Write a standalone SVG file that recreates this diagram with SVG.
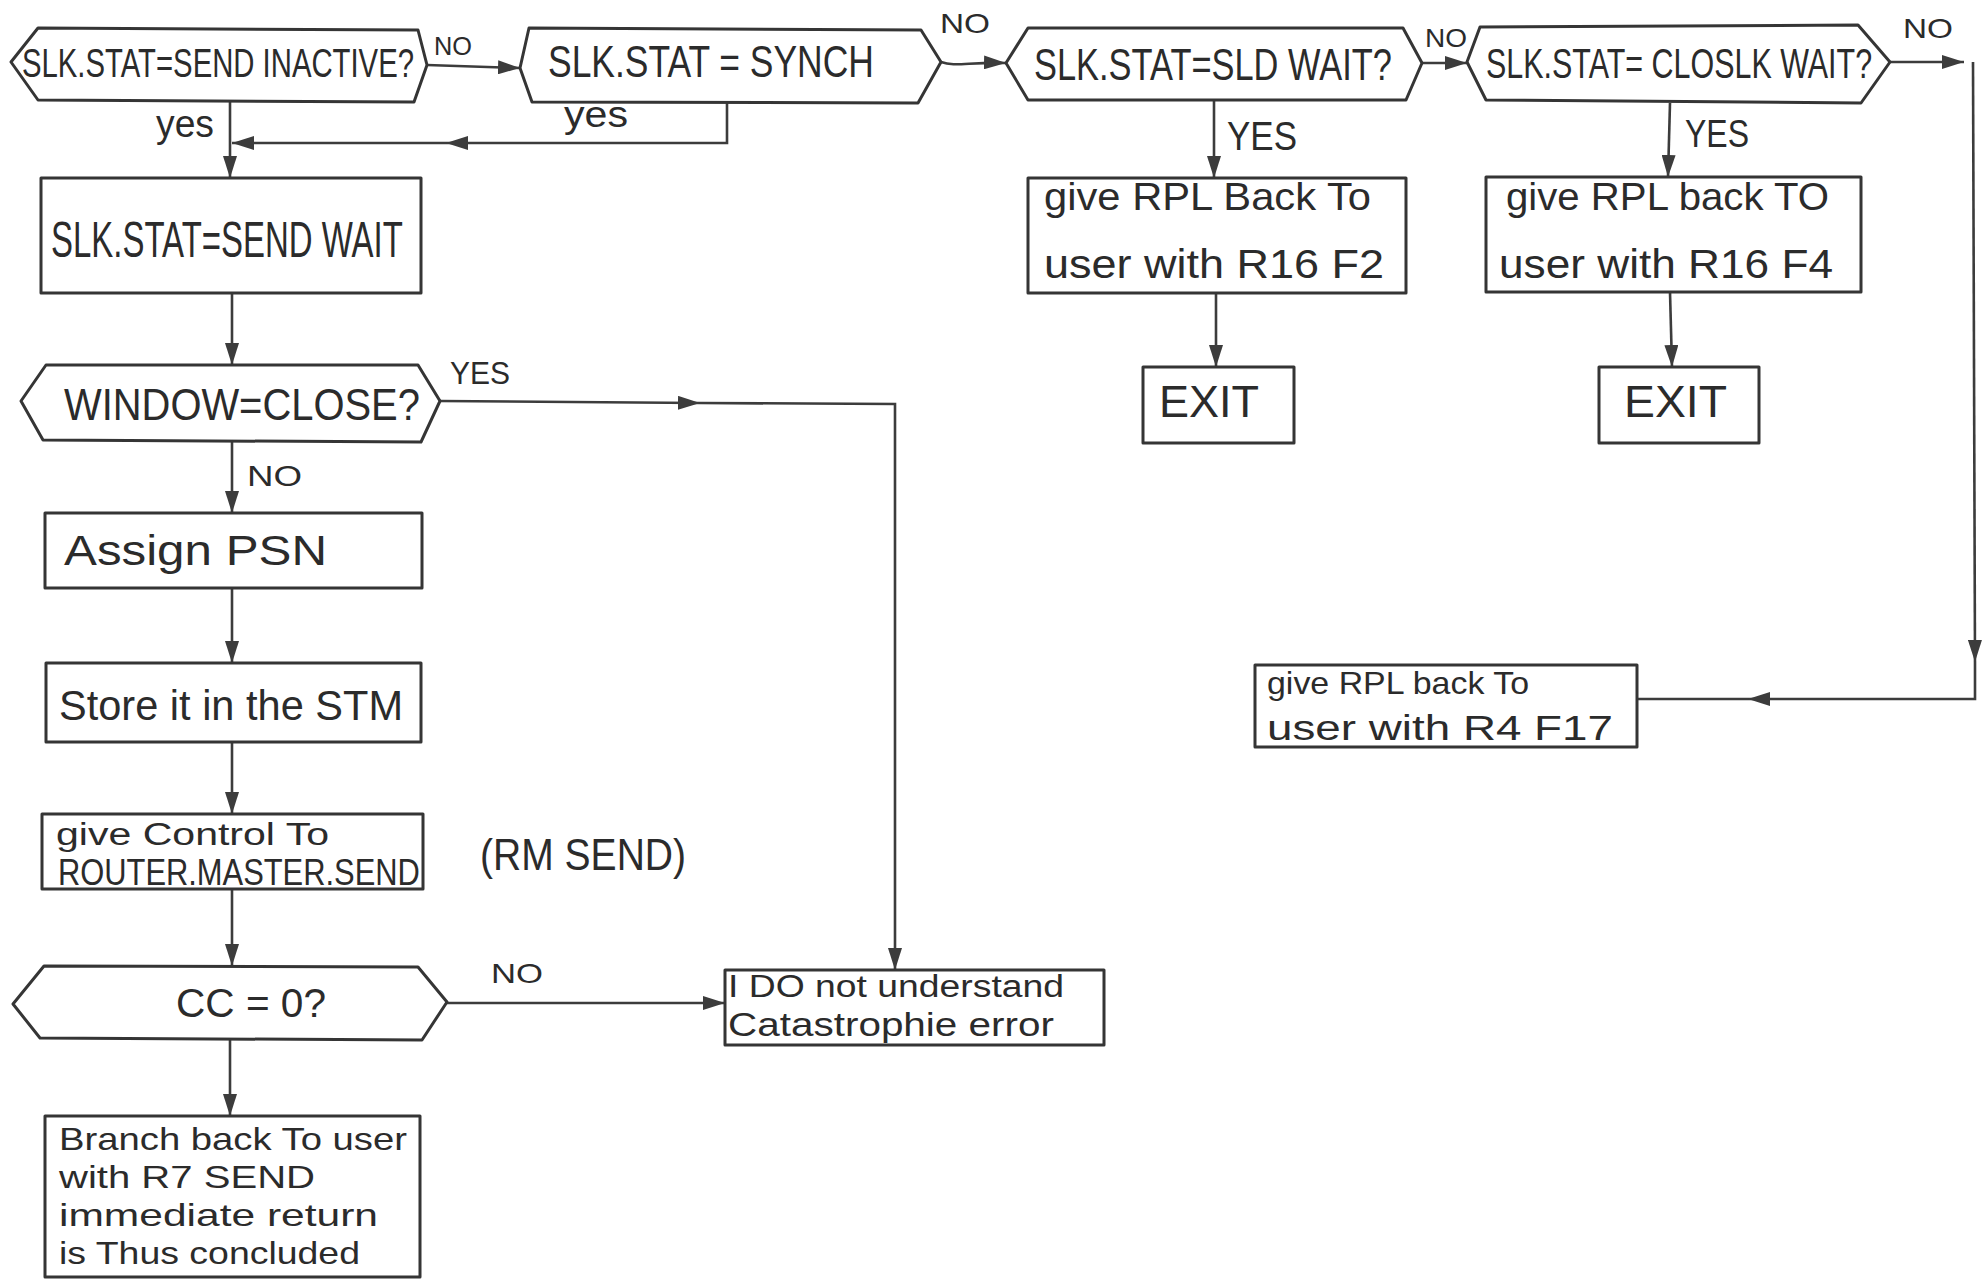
<svg xmlns="http://www.w3.org/2000/svg" width="1986" height="1280" viewBox="0 0 1986 1280">
<defs>
<marker id="ah" markerUnits="userSpaceOnUse" markerWidth="22" markerHeight="14" refX="22" refY="7" orient="auto">
<path d="M0,0 L22,7 L0,14 z" fill="#3c3c3c"/>
</marker>
<style>
.s{fill:#fff;stroke:#353535;stroke-width:3;stroke-linejoin:round}
.c{fill:none;stroke:#3c3c3c;stroke-width:2.6}
.a{marker-end:url(#ah)}
text{font-family:"Liberation Sans","DejaVu Sans",sans-serif;fill:#2b2b2b}
</style>
</defs>
<rect width="1986" height="1280" fill="#fff"/>
<g id="connectors">
<path class="c a" d="M427,65 L520,68"/>
<path class="c a" d="M941,62 C955,67 968,62 1006,63"/>
<path class="c a" d="M1422,63 L1467,63"/>
<path class="c a" d="M1890,62 L1964,62"/>
<path class="c a" d="M1973,62 L1975,662"/>
<path class="c a" d="M1975,662 L1975,699 L1748,699"/>
<path class="c" d="M1748,699 L1637,699"/>
<path class="c a" d="M230,102 L230,178"/>
<path class="c a" d="M727,103 L727,143 L446,143"/>
<path class="c a" d="M446,143 L232,143"/>
<path class="c a" d="M232,293 L232,365"/>
<path class="c a" d="M440,401 L700,403"/>
<path class="c a" d="M700,403 L895,404 L895,970"/>
<path class="c a" d="M232,442 L232,513"/>
<path class="c a" d="M232,588 L232,663"/>
<path class="c a" d="M232,742 L232,814"/>
<path class="c a" d="M232,889 L232,966"/>
<path class="c a" d="M447,1003 L725,1003"/>
<path class="c a" d="M230,1040 L230,1116"/>
<path class="c a" d="M1214,100 L1214,178"/>
<path class="c a" d="M1216,293 L1216,367"/>
<path class="c a" d="M1670,103 L1668,177"/>
<path class="c a" d="M1670,292 L1672,367"/>
</g>
<g id="n-send-inactive">
<polygon class="s" points="11,62 38,28 418,30 427,65 414,102 38,100"/>
<text transform="translate(22,77) scale(0.705,1)" font-size="40" textLength="556" lengthAdjust="spacingAndGlyphs">SLK.STAT=SEND INACTIVE?</text>
</g>
<g id="n-synch">
<polygon class="s" points="520,68 529,28 921,30 941,62 918,103 532,102"/>
<text transform="translate(548,77) scale(0.791,1)" font-size="44" textLength="412" lengthAdjust="spacingAndGlyphs">SLK.STAT = SYNCH</text>
</g>
<g id="n-sld-wait">
<polygon class="s" points="1006,63 1028,28 1403,28 1422,63 1406,100 1028,100"/>
<text transform="translate(1034,80) scale(0.768,1)" font-size="44" textLength="466" lengthAdjust="spacingAndGlyphs">SLK.STAT=SLD WAIT?</text>
</g>
<g id="n-closlk-wait">
<polygon class="s" points="1467,62 1480,27 1858,25 1890,62 1861,103 1486,100"/>
<text transform="translate(1486,78) scale(0.715,1)" font-size="42" textLength="540" lengthAdjust="spacingAndGlyphs">SLK.STAT= CLOSLK WAIT?</text>
</g>
<g id="n-send-wait">
<rect class="s" x="41" y="178" width="380" height="115"/>
<text transform="translate(51,257) scale(0.648,1)" font-size="50" textLength="543" lengthAdjust="spacingAndGlyphs">SLK.STAT=SEND WAIT</text>
</g>
<g id="n-rpl-f2">
<rect class="s" x="1028" y="178" width="378" height="115"/>
<text x="1044" y="210" font-size="39" textLength="327" lengthAdjust="spacingAndGlyphs">give RPL Back To</text>
<text x="1044" y="278" font-size="40" textLength="340" lengthAdjust="spacingAndGlyphs">user with R16 F2</text>
</g>
<g id="n-rpl-f4">
<rect class="s" x="1486" y="177" width="375" height="115"/>
<text x="1506" y="210" font-size="39" textLength="323" lengthAdjust="spacingAndGlyphs">give RPL back TO</text>
<text x="1499" y="278" font-size="40" textLength="334" lengthAdjust="spacingAndGlyphs">user with R16 F4</text>
</g>
<g id="n-exit-1">
<rect class="s" x="1143" y="367" width="151" height="76"/>
<text x="1159" y="417" font-size="45" textLength="100" lengthAdjust="spacingAndGlyphs">EXIT</text>
</g>
<g id="n-exit-2">
<rect class="s" x="1599" y="367" width="160" height="76"/>
<text x="1624" y="417" font-size="45" textLength="103" lengthAdjust="spacingAndGlyphs">EXIT</text>
</g>
<g id="n-rpl-f17">
<rect class="s" x="1255" y="665" width="382" height="82"/>
<text x="1267" y="694" font-size="32" textLength="262" lengthAdjust="spacingAndGlyphs">give RPL back To</text>
<text x="1267" y="740" font-size="35" textLength="346" lengthAdjust="spacingAndGlyphs">user with R4 F17</text>
</g>
<g id="n-window">
<polygon class="s" points="21,401 46,365 418,365 440,401 421,442 43,440"/>
<text transform="translate(64,420) scale(0.908,1)" font-size="44" textLength="392" lengthAdjust="spacingAndGlyphs">WINDOW=CLOSE?</text>
</g>
<g id="n-assign">
<rect class="s" x="45" y="513" width="377" height="75"/>
<text x="64" y="565" font-size="42" textLength="263" lengthAdjust="spacingAndGlyphs">Assign PSN</text>
</g>
<g id="n-store">
<rect class="s" x="46" y="663" width="375" height="79"/>
<text x="59" y="720" font-size="43" textLength="344" lengthAdjust="spacingAndGlyphs">Store it in the STM</text>
</g>
<g id="n-give-control">
<rect class="s" x="42" y="814" width="381" height="75"/>
<text x="56" y="845" font-size="31" textLength="273" lengthAdjust="spacingAndGlyphs">give Control To</text>
<text transform="translate(58,885) scale(0.813,1)" font-size="37" textLength="445" lengthAdjust="spacingAndGlyphs">ROUTER.MASTER.SEND</text>
</g>
<g id="n-rm-send">
<text transform="translate(480,870) scale(0.888,1)" font-size="44" textLength="232" lengthAdjust="spacingAndGlyphs">(RM SEND)</text>
</g>
<g id="n-cc">
<polygon class="s" points="13,1004 44,966 418,967 447,1002 422,1040 40,1038"/>
<text x="176" y="1017" font-size="41" textLength="150" lengthAdjust="spacingAndGlyphs">CC = 0?</text>
</g>
<g id="n-error">
<rect class="s" x="725" y="970" width="379" height="75"/>
<text x="728" y="997" font-size="31" textLength="336" lengthAdjust="spacingAndGlyphs">I DO not understand</text>
<text x="728" y="1036" font-size="33" textLength="326" lengthAdjust="spacingAndGlyphs">Catastrophie error</text>
</g>
<g id="n-branch">
<rect class="s" x="45" y="1116" width="375" height="161"/>
<text x="59" y="1150" font-size="32" textLength="348" lengthAdjust="spacingAndGlyphs">Branch back To user</text>
<text x="59" y="1188" font-size="32" textLength="256" lengthAdjust="spacingAndGlyphs">with R7 SEND</text>
<text x="59" y="1226" font-size="32" textLength="319" lengthAdjust="spacingAndGlyphs">immediate return</text>
<text x="59" y="1264" font-size="32" textLength="301" lengthAdjust="spacingAndGlyphs">is Thus concluded</text>
</g>
<g id="labels">
<text x="434" y="55" font-size="26" textLength="38" lengthAdjust="spacingAndGlyphs">NO</text>
<text x="156" y="137" font-size="38" textLength="58" lengthAdjust="spacingAndGlyphs">yes</text>
<text x="564" y="127" font-size="36" textLength="64" lengthAdjust="spacingAndGlyphs">yes</text>
<text x="940" y="33" font-size="28" textLength="50" lengthAdjust="spacingAndGlyphs">NO</text>
<text x="1425" y="47" font-size="26" textLength="42" lengthAdjust="spacingAndGlyphs">NO</text>
<text x="1227" y="150" font-size="40" textLength="70" lengthAdjust="spacingAndGlyphs">YES</text>
<text x="1685" y="147" font-size="38" textLength="64" lengthAdjust="spacingAndGlyphs">YES</text>
<text x="1903" y="38" font-size="28" textLength="50" lengthAdjust="spacingAndGlyphs">NO</text>
<text x="450" y="384" font-size="32" textLength="60" lengthAdjust="spacingAndGlyphs">YES</text>
<text x="247" y="486" font-size="30" textLength="55" lengthAdjust="spacingAndGlyphs">NO</text>
<text x="491" y="983" font-size="28" textLength="52" lengthAdjust="spacingAndGlyphs">NO</text>
</g>
</svg>
